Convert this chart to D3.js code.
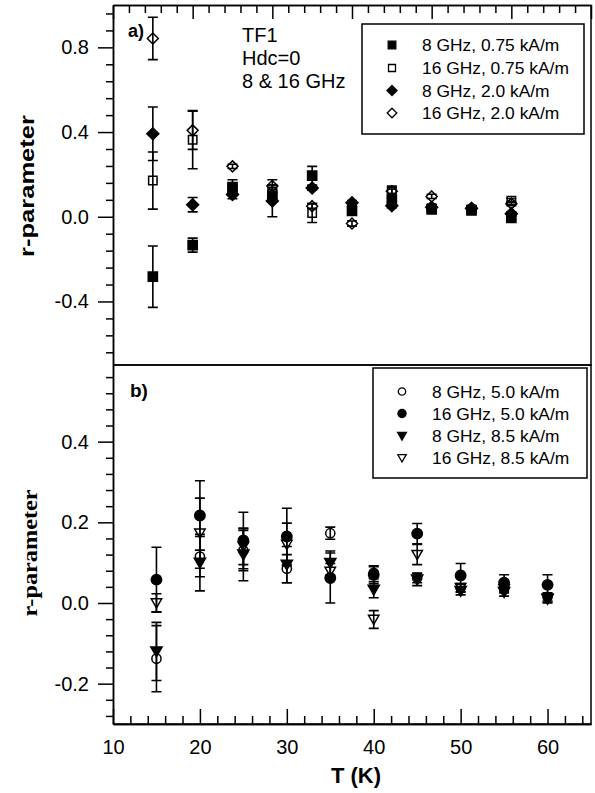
<!DOCTYPE html>
<html>
<head>
<meta charset="utf-8">
<script src="https://d3js.org/d3.v7.min.js"></script>
<style>
  body { margin:0; background:#fff; }
  svg text { font-family: "Liberation Sans", Arial, Helvetica, sans-serif; fill:#000; }
  .axis path, .axis line { stroke:#000; stroke-width:1.5px; }
  .axis text { font-size:20px; }
  .frame { stroke:#000; stroke-width:1.5px; fill:none; }
  .err { stroke:#000; stroke-width:1.6px; fill:none; }
</style>
</head>
<body>
<script>
var width = 595, height = 793;

// temperatures, K
var tempA = [15, 20, 25, 30, 35, 40, 45, 50, 55, 60];
var tempB = [15, 20, 25, 30, 35, 40, 45, 50, 55, 60];

// panel a) r-parameter and error
var r8_075  = [-0.283, -0.134, 0.14, 0.10, 0.194, 0.028, 0.08, 0.035, 0.03, -0.005];
var e8_075  = [0.145, 0.033, 0.035, 0.03, 0.044, 0.01, 0.01, 0.01, 0.01, 0.01];
var r16_075 = [0.171, 0.364, 0.125, 0.12, 0.018, 0.04, 0.125, 0.04, 0.035, 0.076];
var e16_075 = [0.135, 0.137, 0.02, 0.03, 0.045, 0.01, 0.015, 0.01, 0.01, 0.01];
var r8_20   = [0.392, 0.057, 0.105, 0.075, 0.136, 0.066, 0.052, 0.045, 0.04, 0.014];
var e8_20   = [0.126, 0.034, 0.02, 0.075, 0.01, 0.01, 0.01, 0.01, 0.01, 0.01];
var r16_20  = [0.842, 0.408, 0.238, 0.145, 0.05, -0.032, 0.12, 0.096, 0.038, 0.062];
var e16_20  = [0.10, 0.09, 0.01, 0.03, 0.01, 0.012, 0.01, 0.01, 0.01, 0.01];

// panel b)
var r8_50   = [-0.138, 0.115, 0.13, 0.085, 0.173, 0.075, 0.062, 0.037, 0.04, 0.015];
var e8_50   = [0.082, 0.05, 0.05, 0.035, 0.015, 0.015, 0.012, 0.01, 0.01, 0.01];
var r16_50  = [0.058, 0.217, 0.155, 0.165, 0.062, 0.07, 0.172, 0.068, 0.05, 0.045];
var e16_50  = [0.08, 0.086, 0.07, 0.07, 0.062, 0.022, 0.025, 0.03, 0.02, 0.025];
var r8_85   = [-0.12, 0.10, 0.12, 0.095, 0.099, 0.033, 0.058, 0.03, 0.027, 0.01];
var e8_85   = [0.072, 0.07, 0.065, 0.045, 0.03, 0.02, 0.015, 0.01, 0.01, 0.01];
var r16_85  = [0.0, 0.173, 0.14, 0.145, 0.078, -0.041, 0.12, 0.038, 0.035, 0.012];
var e16_85  = [0.023, 0.087, 0.045, 0.053, 0.02, 0.022, 0.025, 0.01, 0.01, 0.01];

var legendA = ["8 GHz, 0.75 kA/m", "16 GHz, 0.75 kA/m", "8 GHz, 2.0 kA/m", "16 GHz, 2.0 kA/m"];
var legendB = ["8 GHz, 5.0 kA/m", "16 GHz, 5.0 kA/m", "8 GHz, 8.5 kA/m", "16 GHz, 8.5 kA/m"];
var noteA = ["TF1", "Hdc=0", "8 & 16 GHz"];

var yMajorA = [-0.4, 0.0, 0.4, 0.8];
var yMajorB = [-0.2, 0.0, 0.2, 0.4];
var xMajorA = [10, 20, 30, 40, 50, 60, 70];
var xMajorB = [10, 20, 30, 40, 50, 60];

var svg = d3.select("body").append("svg")
  .attr("width", width).attr("height", height);

// marker shapes, s = half width
var shapes = {
  square: { draw: function(p, s) { p.rect(-s, -s, 2 * s, 2 * s); } },
  diamond: { draw: function(p, s) { p.moveTo(0, -s); p.lineTo(s, 0); p.lineTo(0, s); p.lineTo(-s, 0); p.closePath(); } },
  circle: { draw: function(p, s) { p.moveTo(s, 0); p.arc(0, 0, s, 0, 2 * Math.PI); } },
  triDown: { draw: function(p, s) { p.moveTo(-s, -s * 0.8); p.lineTo(s, -s * 0.8); p.lineTo(0, s * 0.95); p.closePath(); } }
};

var left = 113, right = 591, topA = 5, mid = 365, bottomB = 724;

var xa = d3.scaleLinear().domain([10, 70]).range([left, right]);
var ya = d3.scaleLinear().domain([-0.7, 1.0]).range([mid, topA]);
var xb = d3.scaleLinear().domain([10, 65]).range([left, right]);
var yb = d3.scaleLinear().domain([-0.3, 0.59]).range([bottomB, mid]);

var fmt1 = function(d) { return d3.format(".1f")(d).replace("\u2212", "-"); };

var seriesA = [
  { t: tempA, v: r8_075,  e: e8_075,  shape: "square",  filled: true,  r: 4.6, lr: 3.8 },
  { t: tempA, v: r16_075, e: e16_075, shape: "square",  filled: false, r: 4.2, lr: 3.5 },
  { t: tempA, v: r8_20,   e: e8_20,   shape: "diamond", filled: true,  r: 6,   lr: 5 },
  { t: tempA, v: r16_20,  e: e16_20,  shape: "diamond", filled: false, r: 5.5, lr: 4.8 }
];
var seriesB = [
  { t: tempB, v: r8_50,  e: e8_50,  shape: "circle",  filled: false, r: 4.6, lr: 3.7 },
  { t: tempB, v: r16_50, e: e16_50, shape: "circle",  filled: true,  r: 5.2, lr: 4.1 },
  { t: tempB, v: r8_85,  e: e8_85,  shape: "triDown", filled: true,  r: 5.6, lr: 4.4 },
  { t: tempB, v: r16_85, e: e16_85, shape: "triDown", filled: false, r: 5.2, lr: 4.2 }
];

function minorTicks(lo, hi, step, majors) {
  var out = [];
  for (var i = Math.round(lo / step); i * step <= hi + 1e-9; i++) {
    var v = +(i * step).toFixed(4);
    if (majors.indexOf(v) < 0) out.push(v);
  }
  return out;
}

function drawSeries(g, x, y, list) {
  list.forEach(function(s) {
    var pts = s.t.map(function(t, i) { return { t: t, v: s.v[i], e: s.e[i] }; });
    var eg = g.append("g");
    pts.forEach(function(d) {
      var cx = x(d.t), y0 = y(d.v - d.e), y1 = y(d.v + d.e);
      eg.append("path").attr("class", "err")
        .attr("d", "M" + cx + "," + y0 + "V" + y1 +
                   "M" + (cx - 5) + "," + y0 + "H" + (cx + 5) +
                   "M" + (cx - 5) + "," + y1 + "H" + (cx + 5));
    });
    g.append("g").selectAll("path").data(pts).enter().append("path")
      .attr("transform", function(d) { return "translate(" + x(d.t) + "," + y(d.v) + ")"; })
      .attr("d", d3.symbol().type(shapes[s.shape]).size(s.r))
      .attr("fill", s.filled ? "#000" : "none")
      .attr("stroke", "#000").attr("stroke-width", 1.5);
  });
}

function drawLegend(g, list, labels, box, symX, txtX, rowY) {
  g.append("rect").attr("class", "frame")
    .attr("x", box[0]).attr("y", box[1]).attr("width", box[2]).attr("height", box[3]);
  list.forEach(function(s, i) {
    g.append("path")
      .attr("transform", "translate(" + symX + "," + rowY[i] + ")")
      .attr("d", d3.symbol().type(shapes[s.shape]).size(s.lr)())
      .attr("fill", s.filled ? "#000" : "none")
      .attr("stroke", "#000").attr("stroke-width", 1.3);
    g.append("text").attr("x", txtX).attr("y", rowY[i] + 6)
      .style("font-size", "17.4px").text(labels[i]);
  });
}

// ---------- panel a ----------
var ga = svg.append("g");

ga.append("g").attr("class", "axis").attr("transform", "translate(" + left + ",0)")
  .call(d3.axisLeft(ya).tickValues(yMajorA).tickSizeInner(15).tickSizeOuter(0).tickPadding(9).tickFormat(fmt1));
ga.append("g").attr("class", "axis").attr("transform", "translate(" + left + ",0)")
  .call(d3.axisLeft(ya).tickValues(minorTicks(-0.64, 0.96, 0.08, yMajorA)).tickSizeInner(7).tickSizeOuter(0).tickFormat(""));
ga.append("g").attr("class", "axis").attr("transform", "translate(0," + topA + ")")
  .call(d3.axisBottom(xa).tickValues(xMajorA).tickSizeInner(14).tickSizeOuter(0).tickFormat(""));
ga.append("g").attr("class", "axis").attr("transform", "translate(0," + topA + ")")
  .call(d3.axisBottom(xa).tickValues(minorTicks(10, 70, 2, xMajorA)).tickSizeInner(8).tickSizeOuter(0).tickFormat(""));
ga.append("path").attr("class", "frame")
  .attr("d", "M" + right + "," + topA + "V" + mid + "H" + left);

drawSeries(ga, xa, ya, seriesA);
drawLegend(ga, seriesA, legendA, [362, 24, 222, 110], 392, 422, [45, 68, 90.5, 113]);

ga.append("text").attr("x", 128).attr("y", 37)
  .style("font-size", "18px").style("font-weight", "bold").text("a)");
ga.selectAll(".note").data(noteA).enter().append("text").attr("class", "note")
  .attr("x", 242).attr("y", function(d, i) { return 42 + i * 23.2; })
  .style("font-size", "20px").text(function(d) { return d; });

ga.append("text")
  .attr("transform", "translate(34," + 186 + ") rotate(-90)")
  .attr("text-anchor", "middle")
  .attr("textLength", 142).attr("lengthAdjust", "spacingAndGlyphs")
  .style("font-size", "21px").style("font-weight", "bold").text("r-parameter");

// ---------- panel b ----------
var gb = svg.append("g");

gb.append("g").attr("class", "axis").attr("transform", "translate(" + left + ",0)")
  .call(d3.axisLeft(yb).tickValues(yMajorB).tickSizeInner(15).tickSizeOuter(0).tickPadding(9).tickFormat(fmt1));
gb.append("g").attr("class", "axis").attr("transform", "translate(" + left + ",0)")
  .call(d3.axisLeft(yb).tickValues(minorTicks(-0.28, 0.56, 0.04, yMajorB)).tickSizeInner(7).tickSizeOuter(0).tickFormat(""));
gb.append("g").attr("class", "axis").attr("transform", "translate(0," + bottomB + ")")
  .call(d3.axisBottom(xb).tickValues(xMajorB).tickSizeInner(-15).tickSizeOuter(0).tickPadding(16).tickFormat(d3.format("d")));
gb.append("g").attr("class", "axis").attr("transform", "translate(0," + bottomB + ")")
  .call(d3.axisBottom(xb).tickValues(minorTicks(10, 64, 2, xMajorB)).tickSizeInner(-8).tickSizeOuter(0).tickFormat(""));
gb.append("path").attr("class", "frame")
  .attr("d", "M" + left + "," + mid + "H" + right + "V" + bottomB + "H" + left);

drawSeries(gb, xb, yb, seriesB);
drawLegend(gb, seriesB, legendB, [373, 368, 214, 110], 402, 432, [391.5, 413.5, 436, 458]);

gb.append("text").attr("x", 130).attr("y", 397)
  .style("font-size", "19px").style("font-weight", "bold").text("b)");

gb.append("text")
  .attr("transform", "translate(37," + 553 + ") rotate(-90)")
  .attr("text-anchor", "middle")
  .attr("textLength", 127).attr("lengthAdjust", "spacingAndGlyphs")
  .style("font-family", "'Liberation Serif', 'Times New Roman', serif")
  .style("font-size", "22px").style("font-weight", "bold").text("r-parameter");

gb.append("text").attr("x", (left + right) / 2 + 4).attr("y", 783)
  .attr("text-anchor", "middle")
  .style("font-size", "22px").style("font-weight", "bold").text("T (K)");
</script>
</body>
</html>
